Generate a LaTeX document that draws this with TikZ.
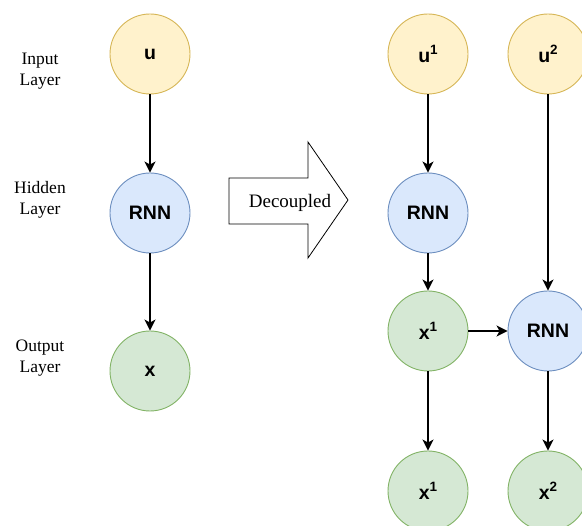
\documentclass[tikz,border=0pt]{standalone}
\usepackage{fontspec}
\setmainfont{Liberation Serif}
\newfontfamily\nodefont{Liberation Sans}
\usetikzlibrary{arrows.meta}
\definecolor{yfill}{HTML}{FFF2CC}\definecolor{ydraw}{HTML}{D6B656}
\definecolor{bfill}{HTML}{DAE8FC}\definecolor{bdraw}{HTML}{6C8EBF}
\definecolor{gfill}{HTML}{D5E8D4}\definecolor{gdraw}{HTML}{82B366}
\newcommand\supr[1]{\raisebox{0.42em}{\fontsize{13.5}{14}\selectfont #1}}
\tikzset{
  neuron/.style={circle, minimum size=80pt, inner sep=0pt, line width=0.9pt, font=\nodefont\bfseries\fontsize{19.5}{21}\selectfont},
  inp/.style={neuron, fill=yfill, draw=ydraw},
  hid/.style={neuron, fill=bfill, draw=bdraw},
  outp/.style={neuron, fill=gfill, draw=gdraw},
  lab/.style={align=center, font=\fontsize{17.5}{21}\selectfont},
  conn/.style={line width=1.6pt, -{Stealth[length=11pt,width=11pt,inset=3pt]}}
}
\begin{document}
\begin{tikzpicture}[x=1pt,y=-1pt]
\useasboundingbox (0,0) rectangle (582,526);
\begin{scope}
\clip (0,0) rectangle (582,526);
% left column
\node[inp] (u) at (150,54) {u};
\node[hid] (rnn) at (150,213) {RNN};
\node[outp] (x) at (150,371) {x};
\draw[conn] (u) -- (rnn);
\draw[conn] (rnn) -- (x);
% labels
\node[lab] (li) at (40,71) {Input\\Layer};
\node[lab] (lh) at (40,200) {Hidden\\Layer};
\node[lab] (lo) at (40,358) {Output\\Layer};
% decoupled arrow
\draw[line width=0.8pt, fill=white] (229,178) -- (308,178) -- (308,142) -- (348,200) -- (308,258) -- (308,224) -- (229,224) -- cycle;
\node[lab, font=\fontsize{19}{21}\selectfont] (dec) at (290,203) {Decoupled};
% right side
\node[inp] (u1) at (428,54) {u\supr{1}};
\node[inp] (u2) at (548,54) {u\supr{2}};
\node[hid] (r1) at (428,213) {RNN};
\node[outp] (x1) at (428,331) {x\supr{1}};
\node[hid] (r2) at (548,331) {RNN};
\node[outp] (x1b) at (428,491) {x\supr{1}};
\node[outp] (x2) at (548,491) {x\supr{2}};
\draw[conn] (u1) -- (r1);
\draw[conn] (r1) -- (x1);
\draw[conn] (x1) -- (r2);
\draw[conn] (u2) -- (r2);
\draw[conn] (x1) -- (x1b);
\draw[conn] (r2) -- (x2);
\end{scope}
\end{tikzpicture}
\end{document}
